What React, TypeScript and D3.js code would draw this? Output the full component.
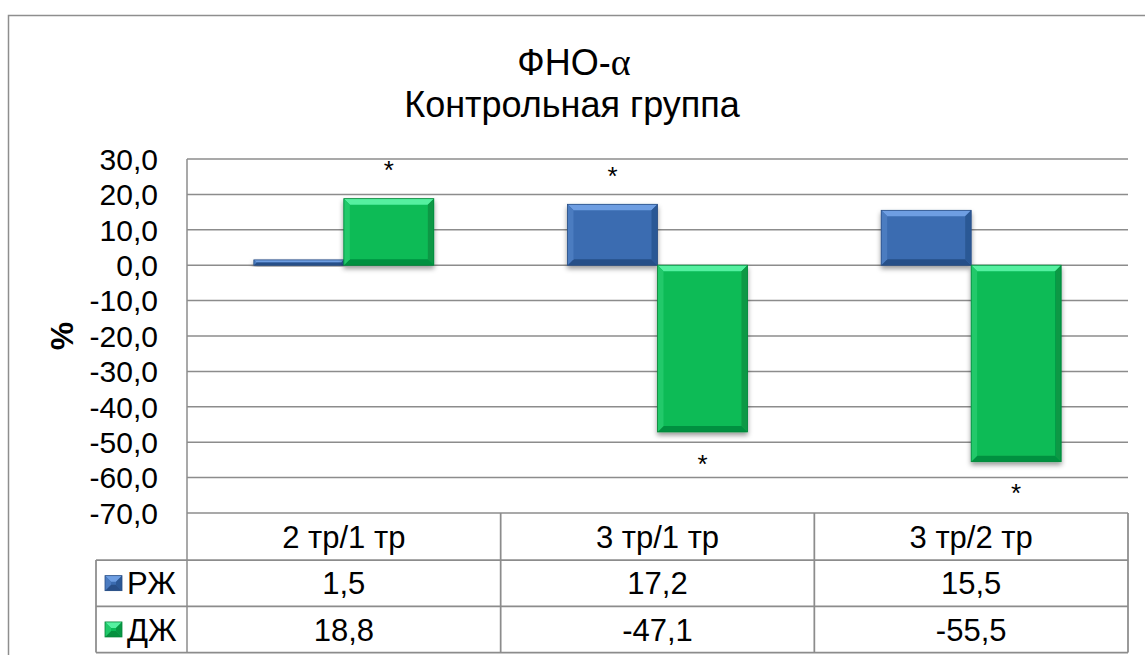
import React from "react";
import * as d3 from "d3";

const categories = ["2 тр/1 тр", "3 тр/1 тр", "3 тр/2 тр"];
const seriesNames = ["РЖ", "ДЖ"];
const seriesRZh = [1.5, 17.2, 15.5];
const seriesDZh = [18.8, -47.1, -55.5];
const labelsRZh = ["", "*", ""];
const labelsDZh = ["*", "*", "*"];
const yTicks = [30, 20, 10, 0, -10, -20, -30, -40, -50, -60, -70];
const titleLine1 = "ФНО-";
const titleAlpha = "α";
const titleLine2 = "Контрольная группа";
const axisTitle = "%";

const W = 1145;
const H = 655;
const FONT = "'Liberation Sans', Arial, sans-serif";

const palettes = [
  { main: "#3b6cb1", top: "#6e9ee2", left: "#4b7bc0", right: "#2c5895", bottom: "#284f88", edge: "#2a4f86" },
  { main: "#0abb57", top: "#55f0a0", left: "#20c96a", right: "#079844", bottom: "#06903f", edge: "#07863b" },
];

function Bevel({ x, y, w, h, pal, shadow }: any) {
  const b = Math.max(0, Math.min(6, h / 2, w / 2));
  const pts = (a: number[][]) => a.map((p) => p.join(",")).join(" ");
  return (
    <g filter={shadow ? "url(#shadow)" : undefined}>
      <rect x={x} y={y} width={w} height={h} fill={pal.main} />
      <polygon points={pts([[x, y], [x + w, y], [x + w - b, y + b], [x + b, y + b]])} fill={pal.top} />
      <polygon points={pts([[x, y + h], [x + w, y + h], [x + w - b, y + h - b], [x + b, y + h - b]])} fill={pal.bottom} />
      <polygon points={pts([[x, y], [x + b, y + b], [x + b, y + h - b], [x, y + h]])} fill={pal.left} />
      <polygon points={pts([[x + w, y], [x + w - b, y + b], [x + w - b, y + h - b], [x + w, y + h]])} fill={pal.right} />
      <rect x={x} y={y} width={w} height={h} fill="none" stroke={pal.edge} strokeWidth={0.8} />
    </g>
  );
}

export default function App() {
  const plotL = 187;
  const plotR = 1128;
  const y = d3.scaleLinear().domain([-70, 30]).range([513, 159]);
  const x0 = d3.scaleBand<string>().domain(categories).range([plotL, plotR]).paddingInner(0).paddingOuter(0);
  const x1 = d3.scaleBand<string>().domain(seriesNames).range([0, x0.bandwidth()]).paddingInner(0).paddingOuter(0.743);
  const series = [seriesRZh, seriesDZh];
  const labels = [labelsRZh, labelsDZh];

  const tableTop = y(-70);
  const rowH = 46.3;
  const headerBottom = tableTop + 47;
  const row1Bottom = headerBottom + rowH;
  const row2Bottom = row1Bottom + rowH;
  const legendL = 96;
  const gridColor = "#8c8c8c";
  const fs = 30;
  const tfs = 31;

  return (
    <svg width={W} height={H} style={{ position: "absolute", left: 0, top: 0, background: "#fff" }}>
      <defs>
        <filter id="shadow" x="-20%" y="-20%" width="140%" height="140%">
          <feDropShadow dx={0} dy={3} stdDeviation={2.5} floodColor="#000" floodOpacity={0.4} />
        </filter>
      </defs>
      <rect x={0} y={0} width={W} height={H} fill="#fff" />
      <rect x={8.5} y={15.5} width={W} height={H} fill="none" stroke="#8e8e8e" strokeWidth={1.5} />

      {/* title */}
      <text x={574} y={75} textAnchor="middle" fontFamily={FONT} fontSize={36} fill="#000">
        {titleLine1}
        <tspan fontFamily="'Liberation Serif', 'Times New Roman', serif" fontSize={38}>{titleAlpha}</tspan>
      </text>
      <text x={572} y={117} textAnchor="middle" fontFamily={FONT} fontSize={36} fill="#000">
        {titleLine2}
      </text>

      {/* gridlines */}
      {yTicks.map((t) => (
        <line key={t} x1={plotL} x2={plotR} y1={y(t)} y2={y(t)} stroke={gridColor} strokeWidth={1.5} />
      ))}
      {/* y labels */}
      {yTicks.map((t) => (
        <text key={"l" + t} x={158} y={y(t)} dy="0.36em" textAnchor="end" fontFamily={FONT} fontSize={fs} fill="#000">
          {d3.format(".1f")(t).replace(".", ",").replace("−", "-")}
        </text>
      ))}
      <text
        transform={`translate(${73},${336}) rotate(-90)`}
        textAnchor="middle"
        fontFamily={FONT}
        fontSize={32}
        fontWeight="bold"
        fill="#000"
      >
        {axisTitle}
      </text>

      {/* bars */}
      {categories.map((c, ci) =>
        series.map((s, si) => {
          const v = s[ci];
          const bx = (x0(c) as number) + (x1(seriesNames[si]) as number);
          const bw = x1.bandwidth();
          const top = y(Math.max(0, v));
          const bh = Math.abs(y(v) - y(0));
          return <Bevel key={c + si} x={bx} y={top} w={bw} h={bh} pal={palettes[si]} shadow />;
        })
      )}
      {/* asterisks */}
      {categories.map((c, ci) =>
        series.map((s, si) => {
          const lab = labels[si][ci];
          if (!lab) return null;
          const v = s[ci];
          const cx = (x0(c) as number) + (x1(seriesNames[si]) as number) + x1.bandwidth() / 2;
          const cy = v >= 0 ? y(v) - 34 : y(v) + 26;
          return (
            <text key={"a" + c + si} x={cx} y={cy + 0.57 * 26} textAnchor="middle" fontFamily={FONT} fontSize={26} fill="#000">
              {lab}
            </text>
          );
        })
      )}

      {/* axis line / table */}
      <line x1={plotL} x2={plotL} y1={y(30)} y2={row2Bottom} stroke={gridColor} strokeWidth={1.5} />
      <line x1={legendL} x2={plotR} y1={headerBottom} y2={headerBottom} stroke={gridColor} strokeWidth={1.75} />
      <line x1={legendL} x2={plotR} y1={row1Bottom} y2={row1Bottom} stroke={gridColor} strokeWidth={1.75} />
      <line x1={legendL} x2={plotR} y1={row2Bottom} y2={row2Bottom} stroke={gridColor} strokeWidth={1.75} />
      <line x1={legendL} x2={legendL} y1={headerBottom} y2={row2Bottom} stroke={gridColor} strokeWidth={1.75} />
      {categories.map((c) => (
        <line key={"v" + c} x1={(x0(c) as number) + x0.bandwidth()} x2={(x0(c) as number) + x0.bandwidth()} y1={tableTop} y2={row2Bottom} stroke={gridColor} strokeWidth={1.75} />
      ))}
      {categories.map((c) => (
        <text key={"h" + c} x={(x0(c) as number) + x0.bandwidth() / 2} y={(tableTop + headerBottom) / 2} dy="0.36em" textAnchor="middle" fontFamily={FONT} fontSize={tfs} fill="#000">
          {c}
        </text>
      ))}
      {series.map((s, si) => {
        const rt = si === 0 ? headerBottom : row1Bottom;
        const cy = rt + rowH / 2;
        return (
          <g key={"r" + si}>
            <Bevel x={105} y={cy - 7.5} w={17} h={15} pal={palettes[si]} shadow={false} />
            <text x={127} y={cy} dy="0.36em" fontFamily={FONT} fontSize={tfs} fill="#000">
              {seriesNames[si]}
            </text>
            {categories.map((c, ci) => (
              <text key={c} x={(x0(c) as number) + x0.bandwidth() / 2} y={cy} dy="0.36em" textAnchor="middle" fontFamily={FONT} fontSize={tfs} fill="#000">
                {d3.format(".1f")(s[ci]).replace(".", ",").replace("−", "-")}
              </text>
            ))}
          </g>
        );
      })}
    </svg>
  );
}
